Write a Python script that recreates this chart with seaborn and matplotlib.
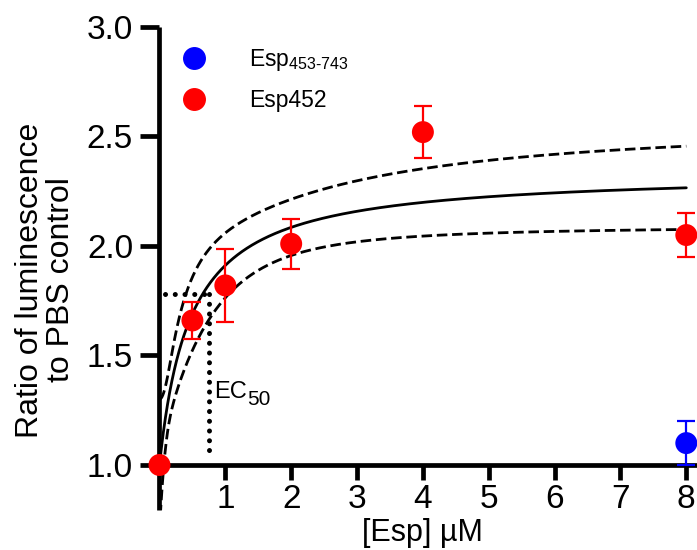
import numpy as np
import pandas as pd
import matplotlib
matplotlib.use("Agg")
import matplotlib.pyplot as plt
from matplotlib.lines import Line2D
import seaborn as sns

# Mean ratio (± SEM) of luminescence relative to the PBS control
conc_452 = [0.0, 0.5, 1.0, 2.0, 4.0, 8.0]
ratio_452 = [1.00, 1.66, 1.82, 2.01, 2.52, 2.05]
sem_452 = [0.0, 0.085, 0.165, 0.115, 0.12, 0.10]

conc_453 = [8.0]
ratio_453 = [1.10]
sem_453 = [0.10]

series_labels = [r"Esp$_{\mathregular{453\text{-}743}}$", "Esp452"]
series_colors = ["#0000FF", "#FF0000"]

# Hyperbolic fit to Esp452: Bottom, Top, EC50 (µM)
fit_params = [1.00, 2.34, 0.47]
# Parameter covariance (already scaled by t^2) used for the 95% confidence band
fit_cov = [[0.090, 0.000, 0.110],
           [0.000, 0.06075, 0.0777],
           [0.110, 0.0777, 0.2438]]

# EC50 guide read-out
ec50_x = 0.75
ec50_y = 1.78

x_ticks = [1, 2, 3, 4, 5, 6, 7, 8]
y_ticks = [1.0, 1.5, 2.0, 2.5, 3.0]
y_ticklabels = ["1.0", "1.5", "2.0", "2.5", "3.0"]

sns.set_theme(style="ticks")
plt.rcParams["font.family"] = ["Liberation Sans", "DejaVu Sans"]
plt.rcParams["mathtext.fontset"] = "custom"
plt.rcParams["mathtext.rm"] = "Liberation Sans"
plt.rcParams["text.color"] = "black"
plt.rcParams["axes.labelcolor"] = "black"
plt.rcParams["xtick.color"] = "black"
plt.rcParams["ytick.color"] = "black"

fig = plt.figure(figsize=(6.97, 5.50), dpi=100)
ax = fig.add_axes([0.2288, 0.07273, 0.7842, 0.8782])

# fitted curve and confidence band
b, t, k = fit_params
xs = np.linspace(0, 8, 3000)
frac = xs / (k + xs)
fit = b + (t - b) * frac
grad = np.stack([1 - frac, frac, -(t - b) * xs / (k + xs) ** 2])
half = np.sqrt(np.einsum("in,ij,jn->n", grad, np.array(fit_cov), grad))

ax.plot(xs, fit, color="black", lw=2.0, zorder=2)
for band in (fit + half, fit - half):
    ax.plot(xs, band, color="black", lw=2.0, linestyle=(0, (3.8, 1.7)), zorder=2)

# EC50 guides
dot = dict(color="black", lw=3.6, linestyle=(0, (0.01, 1.94)),
           dash_capstyle="round", zorder=3)
ax.plot([0.08, ec50_x], [ec50_y, ec50_y], **dot)
ax.plot([ec50_x, ec50_x], [ec50_y, 1.04], **dot)
ax.text(0.835, 1.306, "EC", fontsize=17, va="baseline", ha="left", color="black")
ax.annotate("50", xy=(0.835, 1.306), xytext=(23.8, -5), textcoords="offset points",
            fontsize=15, va="baseline", ha="left", color="black")

# data points
df = pd.DataFrame({
    "conc": conc_453 + conc_452,
    "ratio": ratio_453 + ratio_452,
    "sem": sem_453 + sem_452,
    "series": [series_labels[0]] * len(conc_453) + [series_labels[1]] * len(conc_452),
})
palette = dict(zip(series_labels, series_colors))

for name, sub in df.groupby("series", sort=False):
    ax.errorbar(sub["conc"], sub["ratio"], yerr=sub["sem"], fmt="none",
                ecolor=palette[name], elinewidth=1.6, capsize=6.5, capthick=1.6,
                zorder=4, clip_on=False)

sns.scatterplot(data=df, x="conc", y="ratio", hue="series", palette=palette,
                s=250, linewidth=0, legend=False, ax=ax, zorder=5, clip_on=False)

handles = [Line2D([], [], marker="o", ls="", color=c, markersize=15.5)
           for c in series_colors]
leg = ax.legend(handles, series_labels, loc="upper left",
                bbox_to_anchor=(182.5 / 697, 1 - 47 / 550), bbox_transform=fig.transFigure,
                frameon=False, fontsize=16.5, handlelength=1.0, handletextpad=1.9,
                labelspacing=0.7, borderpad=0, borderaxespad=0)
for txt in leg.get_texts():
    txt.set_color("black")

# axes
ax.set_xlim(0, 8.3)
ax.set_ylim(0.7945, 3.0)
ax.set_xticks(x_ticks)
ax.set_xticklabels([str(v) for v in x_ticks])
ax.set_yticks(y_ticks)
ax.set_yticklabels(y_ticklabels)

ax.spines["top"].set_visible(False)
ax.spines["right"].set_visible(False)
ax.spines["bottom"].set_position(("data", 1.0))
for s in ("left", "bottom"):
    ax.spines[s].set_linewidth(3.4)
    ax.spines[s].set_color("black")
    ax.spines[s].set_capstyle("butt")

ax.tick_params(axis="x", length=11, width=3.4, pad=3, labelsize=24,
               colors="black", labelcolor="black")
ax.tick_params(axis="y", length=14, width=3.4, pad=5, labelsize=24,
               colors="black", labelcolor="black")

ax.set_xlabel("[Esp] µM", fontsize=22, va="baseline", ha="center", color="black")
ax.xaxis.set_label_coords((422 - 159.5) / 546.6, (510 - 541) / 483)
ax.set_ylabel("Ratio of luminescence\nto PBS control", fontsize=23, color="black",
              ha="center", va="center", rotation_mode="default", linespacing=1.05)
ax.yaxis.set_label_coords((45.5 - 159.5) / 546.6, (510 - 280) / 483)

fig.savefig("out.png", dpi=100)
